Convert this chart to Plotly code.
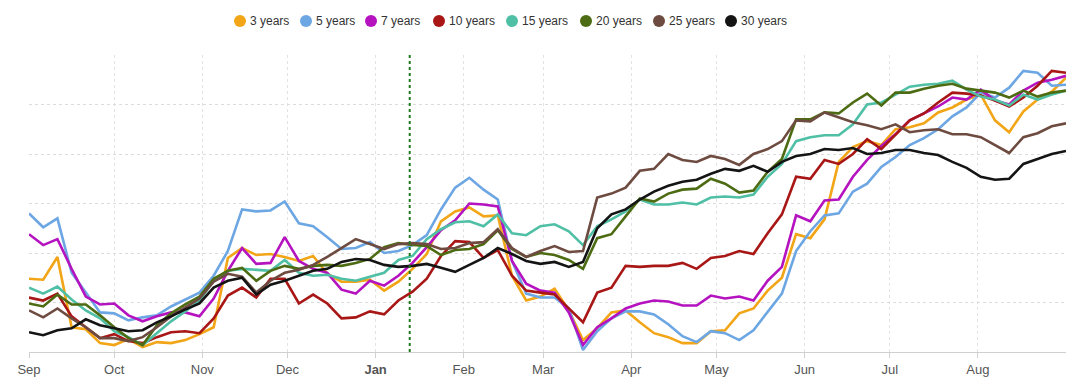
import pandas as pd
import plotly.graph_objects as go

# ---- data (5-day sampling, Sep 2022 - Aug 2023) ----
dates = pd.date_range("2022-09-01", periods=74, freq="5D")

series_names = ["3 years", "5 years", "7 years", "10 years",
                "15 years", "20 years", "25 years", "30 years"]
series_colors = ["#f2a516", "#6ca6e3", "#b413bf", "#a81616",
                 "#4fbfa5", "#4c6b12", "#6e4b40", "#141414"]

y3 = [7.4, 7.3, 9.6, 2.5, 2.3, 0.9, 0.7, 1.3, 0.5, 1.0, 0.9, 1.2, 1.8, 2.5, 9.5, 10.5, 9.8, 9.9, 9.6, 9.2, 9.7, 7.9, 7.1, 7.1, 7.3,
      6.2, 7.1, 8.4, 9.9, 13.2, 14.2, 14.6, 13.7, 13.8, 7.7, 5.2, 5.6,
      6.4, 4.2, 1.2, 2.4, 4.0, 4.2, 3.0, 1.9, 1.5, 0.9, 0.9, 2.1,
      2.2, 3.9, 4.4, 6.2, 7.5, 11.9, 11.5, 13.4, 19.2, 20.7, 21.3, 20.9, 22.5,
      22.7, 23.1, 24.2, 24.7, 25.5, 26.0, 23.4, 22.2, 24.3, 25.5, 26.3, 27.7]
y5 = [14.0, 12.6, 13.5, 8.0, 6.0, 4.0, 3.9, 3.2, 3.5, 3.7, 4.6, 5.3, 6.0, 7.7, 10.2, 14.4, 14.2, 14.3, 15.2, 13.0, 12.7, 11.6, 10.4, 10.5, 11.1,
      10.0, 10.2, 10.8, 11.8, 14.4, 16.6, 17.6, 16.4, 15.4, 9.2, 5.9, 5.5,
      5.5, 4.4, 0.2, 2.1, 3.4, 4.1, 4.1, 3.8, 2.8, 1.6, 1.0, 2.1,
      1.9, 1.2, 2.2, 4.0, 5.9, 10.2, 12.2, 13.8, 14.0, 16.2, 17.0, 18.7, 19.7,
      20.9, 21.6, 22.5, 23.8, 24.7, 26.2, 25.7, 26.7, 28.4, 28.2, 26.9, 27.0]
y7 = [11.9, 10.8, 11.4, 8.4, 5.6, 4.8, 4.9, 3.7, 3.1, 3.6, 4.0, 4.0, 3.6, 5.4, 8.2, 10.5, 8.9, 9.0, 11.6, 9.2, 8.4, 8.0, 6.3, 5.9, 7.2,
      6.7, 7.7, 9.0, 10.6, 12.3, 13.3, 15.0, 14.9, 14.7, 9.2, 6.9, 6.2,
      6.0, 4.0, 0.7, 2.5, 3.4, 4.4, 4.9, 5.2, 5.1, 4.7, 4.7, 5.7,
      5.4, 5.6, 5.2, 7.2, 8.6, 13.8, 13.2, 15.3, 15.4, 17.7, 19.4, 20.8, 22.0,
      23.4, 24.1, 24.8, 25.7, 25.5, 26.5, 25.4, 25.0, 26.4, 27.2, 27.5, 27.9]
y10 = [5.5, 5.2, 5.9, 3.6, 2.5, 1.4, 1.8, 1.1, 0.9, 1.5, 2.0, 2.1, 1.9, 3.4, 5.7, 6.5, 5.5, 7.4, 7.4, 4.9, 5.8, 4.9, 3.4, 3.5, 4.1,
       3.8, 5.2, 6.1, 7.4, 9.7, 11.2, 11.1, 9.5, 10.3, 7.7, 6.2, 6.0,
       5.8, 4.4, 3.0, 6.0, 6.5, 8.7, 8.6, 8.7, 8.7, 9.0, 8.4, 9.5,
       9.7, 10.2, 9.9, 12.0, 13.9, 17.7, 17.5, 19.4, 19.0, 20.0, 21.5, 20.5, 21.9,
       23.4, 24.1, 25.2, 26.2, 26.1, 25.9, 25.4, 24.8, 25.7, 26.9, 28.4, 28.2]
y15 = [6.5, 5.9, 6.6, 5.3, 4.2, 3.4, 2.1, 1.5, 0.7, 1.9, 3.1, 4.1, 5.2, 7.2, 8.2, 8.4, 8.3, 8.2, 9.3, 8.0, 7.7, 7.8, 7.4, 7.2, 7.6,
       8.0, 9.3, 9.7, 11.4, 12.4, 13.1, 13.2, 12.7, 13.9, 12.0, 11.8, 12.7,
       12.9, 12.2, 10.8, 12.7, 13.4, 14.2, 15.4, 14.9, 14.9, 15.1, 14.9, 15.6,
       15.7, 15.6, 15.9, 17.7, 19.0, 21.3, 21.7, 21.9, 21.9, 23.0, 25.0, 25.2, 26.0,
       26.8, 27.0, 27.1, 27.4, 26.5, 25.8, 25.5, 24.9, 26.0, 25.5, 26.0, 26.4]
y20 = [4.9, 4.6, 5.8, 4.8, 4.8, 3.7, 2.5, 1.4, 0.7, 2.7, 3.9, 4.8, 5.6, 7.4, 8.2, 8.5, 7.2, 8.2, 8.7, 8.4, 8.7, 8.8, 8.7, 9.0, 9.4,
       10.6, 11.0, 10.8, 10.7, 9.8, 10.3, 10.4, 10.9, 12.3, 10.4, 9.6, 10.0,
       9.8, 9.3, 8.4, 11.5, 11.9, 13.7, 15.5, 15.2, 16.0, 16.4, 16.5, 17.5,
       17.0, 16.1, 16.3, 18.2, 19.5, 23.5, 23.5, 24.2, 24.1, 25.2, 26.1, 24.9, 26.2,
       26.2, 26.6, 26.9, 27.1, 26.6, 26.4, 26.2, 25.7, 26.4, 25.8, 26.2, 26.4]
y25 = [4.2, 3.5, 4.4, 3.4, 2.5, 1.4, 1.4, 1.1, 1.5, 2.5, 3.6, 4.5, 5.4, 7.1, 7.9, 7.6, 6.0, 7.2, 8.0, 8.3, 8.8, 9.6, 10.5, 11.4, 10.9,
       10.4, 10.9, 11.0, 10.9, 10.4, 10.5, 11.0, 11.1, 12.4, 10.5, 9.6, 10.2,
       10.7, 10.1, 10.2, 15.6, 16.0, 16.6, 18.3, 18.5, 20.0, 19.4, 19.2, 19.8,
       19.5, 18.9, 20.0, 20.5, 21.3, 23.4, 23.3, 24.2, 23.7, 23.2, 22.9, 22.5, 23.0,
       22.2, 22.4, 22.5, 22.0, 22.0, 21.7, 20.9, 20.1, 21.7, 22.1, 22.8, 23.1]
y30 = [2.0, 1.7, 2.2, 2.4, 3.3, 2.7, 2.4, 2.1, 2.2, 3.0, 3.6, 4.3, 4.9, 6.5, 7.2, 7.5, 5.8, 6.8, 7.2, 7.7, 8.2, 8.4, 9.1, 9.4, 9.3,
       8.8, 8.6, 8.7, 8.9, 8.5, 8.1, 8.8, 9.5, 10.5, 9.9, 9.2, 8.9,
       9.1, 8.6, 9.1, 12.5, 13.9, 14.4, 15.4, 16.2, 16.8, 17.2, 17.4, 18.0,
       18.5, 18.3, 18.8, 18.2, 19.2, 19.8, 20.0, 20.5, 20.4, 20.6, 20.0, 20.1, 20.4,
       20.4, 20.1, 19.9, 19.2, 18.6, 17.7, 17.4, 17.5, 19.0, 19.5, 20.0, 20.3]

series_values = [y3, y5, y7, y10, y15, y20, y25, y30]

month_ticks = pd.date_range("2022-09-01", periods=12, freq="MS")
month_labels = ["Sep", "Oct", "Nov", "Dec", "<b>Jan</b>", "Feb", "Mar",
                "Apr", "May", "Jun", "Jul", "Aug"]
marker_date = "2023-01-13"

# ---- layout geometry (window pixels; page body has an 8px default margin) ----
WIN_W, WIN_H = 1085, 387
BODY = 8
PLOT_L, PLOT_R, PLOT_T, PLOT_B = 29, 1066, 55, 352
W, H = WIN_W - BODY, WIN_H - BODY
ML, MT = PLOT_L - BODY, PLOT_T - BODY
MR, MB = WIN_W - PLOT_R, WIN_H - PLOT_B
PW, PH = PLOT_R - PLOT_L, PLOT_B - PLOT_T

fig = go.Figure()
for name, color, vals in zip(series_names, series_colors, series_values):
    fig.add_trace(go.Scatter(x=dates, y=vals, mode="lines", name=name,
                             line=dict(color=color, width=2.6),
                             showlegend=False))

# vertical dotted marker line
fig.add_shape(type="line", xref="x", yref="paper", x0=marker_date, x1=marker_date,
              y0=0, y1=1, line=dict(color="#1f7a1f", width=2, dash="dot"), layer="above")

# custom legend (circle + label), centered above the plot
legend_px = [240, 306, 371, 439, 512, 586, 659, 731]
legend_py = 21
for name, color, px in zip(series_names, series_colors, legend_px):
    xp = (px - PLOT_L) / PW
    yp = (PLOT_B - legend_py) / PH
    fig.add_shape(type="circle", xref="paper", yref="paper",
                  xsizemode="pixel", ysizemode="pixel",
                  xanchor=xp, yanchor=yp, x0=-6, x1=6, y0=-6, y1=6,
                  fillcolor=color, line=dict(width=0))
    fig.add_annotation(x=(px + 8 - PLOT_L) / PW, y=yp, xref="paper", yref="paper",
                       text=name, showarrow=False, xanchor="left", yanchor="middle",
                       font=dict(family="Liberation Sans, Arial, sans-serif", size=12, color="#333333"))

fig.update_layout(
    width=W, height=H,
    margin=dict(l=ML, r=MR, t=MT, b=MB, autoexpand=False),
    plot_bgcolor="white", paper_bgcolor="white",
    showlegend=False,
    font=dict(family="Liberation Sans, Arial, sans-serif"),
    xaxis=dict(
        type="date", range=["2022-09-01", "2023-09-01"],
        tickvals=list(month_ticks), ticktext=month_labels,
        tickfont=dict(size=13, color="#555555"),
        showgrid=True, gridcolor="#e3e3e3", griddash="dot", gridwidth=1,
        showline=True, linecolor="#d0d0d0", linewidth=1,
        ticks="outside", ticklen=5, tickcolor="#d0d0d0",
        zeroline=False, fixedrange=True,
    ),
    yaxis=dict(
        range=[0, 30], dtick=5, showticklabels=False,
        showgrid=True, gridcolor="#dcdcdc", griddash="dot", gridwidth=1,
        zeroline=False, showline=False, fixedrange=True,
    ),
)

fig.write_html("out.html")
